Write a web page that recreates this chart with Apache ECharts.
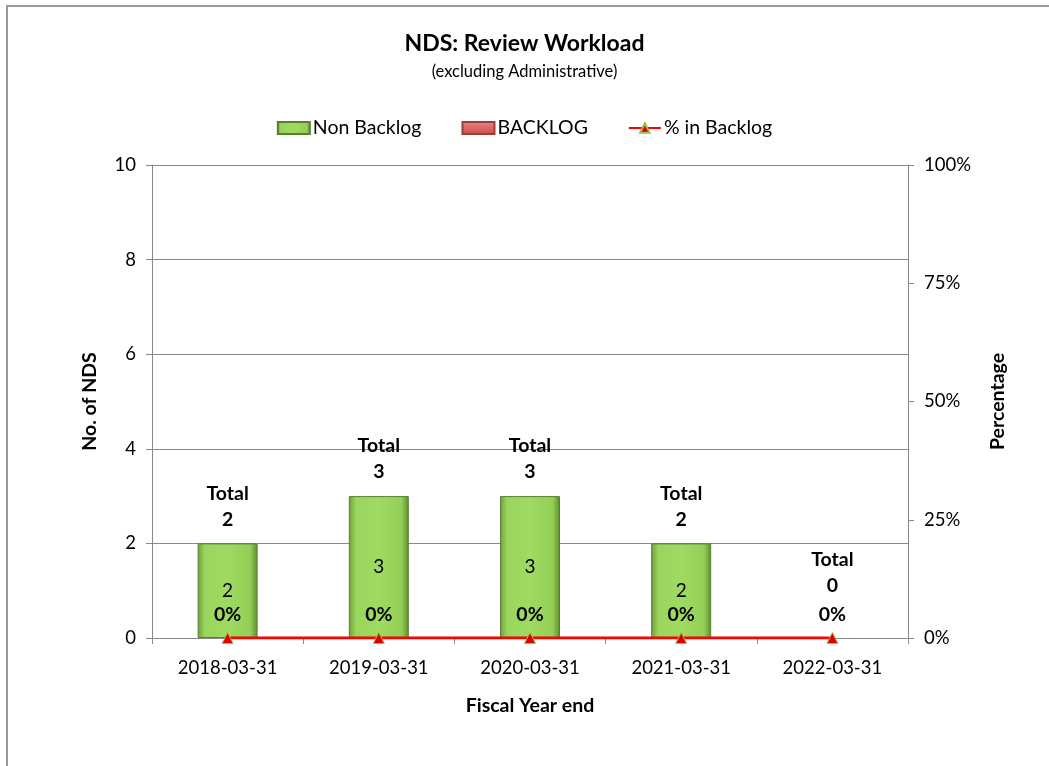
<!DOCTYPE html>
<html>
<head>
<meta charset="utf-8">
<script src="https://cdn.jsdelivr.net/npm/echarts@6/dist/echarts.min.js"></script>
<style>
html,body{margin:0;padding:0;background:#fff;}
#chart{width:1049px;height:766px;}
</style>
</head>
<body>
<div id="chart"></div>
<script>
var fiscalYears = ['2018-03-31', '2019-03-31', '2020-03-31', '2021-03-31', '2022-03-31'];
var nonBacklog = [2, 3, 3, 2, 0];
var backlog = [0, 0, 0, 0, 0];
var pctBacklog = [0, 0, 0, 0, 0];
var totals = [2, 3, 3, 2, 0];

var font = 'Lato, "Open Sans", sans-serif';

// zero-height bars should not draw a border line
function barItems(arr) {
    return arr.map(function (v) {
        return v == 0 ? {value: v, itemStyle: {borderWidth: 0, opacity: 0}} : v;
    });
}

var totalData = [];
for (var i = 0; i < totals.length; i++) {
    var item = {value: totals[i]};
    if (totals[i] == 0) {
        item.label = {offset: [0, -28]};
    }
    totalData.push(item);
}

var chart = echarts.init(document.getElementById('chart'));
chart.setOption({
    backgroundColor: '#fff',
    textStyle: {fontFamily: font},
    animation: false,
    graphic: [{
        type: 'polyline',
        shape: {points: [[7, 766], [7, 6], [1049, 6]]},
        style: {stroke: '#9a9a9a', lineWidth: 2, fill: null}
    }],
    title: {
        text: 'NDS: Review Workload',
        subtext: '(excluding Administrative)',
        left: 'center',
        top: 27,
        itemGap: 8,
        textStyle: {fontFamily: font, fontSize: 23, fontWeight: 'bold', color: '#000'},
        subtextStyle: {fontFamily: font, fontSize: 16.5, color: '#000'}
    },
    legend: {
        top: 113,
        left: 'center',
        itemGap: 40,
        itemWidth: 32,
        itemHeight: 12,
        textStyle: {fontFamily: font, fontSize: 19.5, color: '#000', padding: [0, 0, 0, -2]},
        data: [
            {name: 'Non Backlog', icon: 'rect'},
            {name: 'BACKLOG', icon: 'rect'},
            {name: '% in Backlog'}
        ]
    },
    grid: {left: 152, right: 141, top: 165, bottom: 128},
    xAxis: {
        type: 'category',
        data: fiscalYears,
        name: 'Fiscal Year end',
        nameLocation: 'middle',
        nameGap: 58,
        nameTextStyle: {fontFamily: font, fontSize: 19.5, fontWeight: 'bold', color: '#000'},
        axisLine: {lineStyle: {color: '#888'}},
        axisTick: {show: true, length: 6, lineStyle: {color: '#888'}},
        axisLabel: {fontFamily: font, fontSize: 18.5, color: '#000', margin: 21}
    },
    yAxis: [{
        type: 'value',
        min: 0,
        max: 10,
        interval: 2,
        name: 'No. of NDS',
        nameLocation: 'middle',
        nameGap: 52,
        nameRotate: 90,
        nameTextStyle: {fontFamily: font, fontSize: 19.5, fontWeight: 'bold', color: '#000'},
        axisLine: {show: true, lineStyle: {color: '#888'}},
        axisTick: {show: true, length: 6, lineStyle: {color: '#888'}},
        axisLabel: {fontFamily: font, fontSize: 18.5, color: '#000', margin: 16},
        splitLine: {lineStyle: {color: '#888'}}
    }, {
        type: 'value',
        min: 0,
        max: 1,
        interval: 0.25,
        name: 'Percentage',
        nameLocation: 'middle',
        nameGap: 80,
        nameRotate: 90,
        nameTextStyle: {fontFamily: font, fontSize: 19.5, fontWeight: 'bold', color: '#000'},
        axisLine: {show: true, lineStyle: {color: '#888'}},
        axisTick: {show: true, length: 6, lineStyle: {color: '#888'}},
        axisLabel: {
            fontFamily: font, fontSize: 18.5, color: '#000', margin: 16,
            formatter: function (v) { return Math.round(v * 100) + '%'; }
        },
        splitLine: {show: false}
    }],
    series: [{
        name: 'Non Backlog',
        type: 'bar',
        stack: 'nds',
        barWidth: 60,
        itemStyle: {
            color: new echarts.graphic.LinearGradient(0, 0, 1, 0, [
                {offset: 0, color: '#6f9e3a'},
                {offset: 0.12, color: '#9ad65e'},
                {offset: 0.5, color: '#9fdb62'},
                {offset: 0.88, color: '#93cf56'},
                {offset: 1, color: '#5d8a2e'}
            ]),
            borderColor: '#5a7f33',
            borderWidth: 1
        },
        label: {
            show: true,
            position: 'inside',
            fontFamily: font,
            fontSize: 19,
            color: '#000',
            formatter: function (p) { return p.value > 0 ? p.value : ''; }
        },
        data: barItems(nonBacklog)
    }, {
        name: 'BACKLOG',
        type: 'bar',
        stack: 'nds',
        barWidth: 60,
        itemStyle: {
            color: new echarts.graphic.LinearGradient(0, 0, 0, 1, [
                {offset: 0, color: '#e58a8a'},
                {offset: 0.5, color: '#e06666'},
                {offset: 1, color: '#c0504d'}
            ]),
            borderColor: '#a03c3a',
            borderWidth: 1
        },
        data: barItems(backlog)
    }, {
        name: 'Total',
        type: 'bar',
        barGap: '-100%',
        barWidth: 60,
        itemStyle: {color: 'rgba(0,0,0,0)'},
        label: {
            show: true,
            position: 'top',
            distance: 11,
            fontFamily: font,
            fontSize: 19.5,
            fontWeight: 'bold',
            lineHeight: 26,
            color: '#000',
            formatter: function (p) { return 'Total\n' + p.value; }
        },
        silent: true,
        tooltip: {show: false},
        data: totalData
    }, {
        name: '% in Backlog',
        type: 'line',
        yAxisIndex: 1,
        symbol: 'triangle',
        symbolSize: 11,
        itemStyle: {color: '#e00000', borderColor: '#9bbb59', borderWidth: 1},
        lineStyle: {color: '#ff0000', width: 3},
        label: {
            show: true,
            position: 'top',
            distance: 7,
            fontFamily: font,
            fontSize: 19.5,
            fontWeight: 'bold',
            color: '#000',
            formatter: function (p) { return Math.round(p.value * 100) + '%'; }
        },
        z: 5,
        data: pctBacklog
    }]
});
</script>
</body>
</html>
